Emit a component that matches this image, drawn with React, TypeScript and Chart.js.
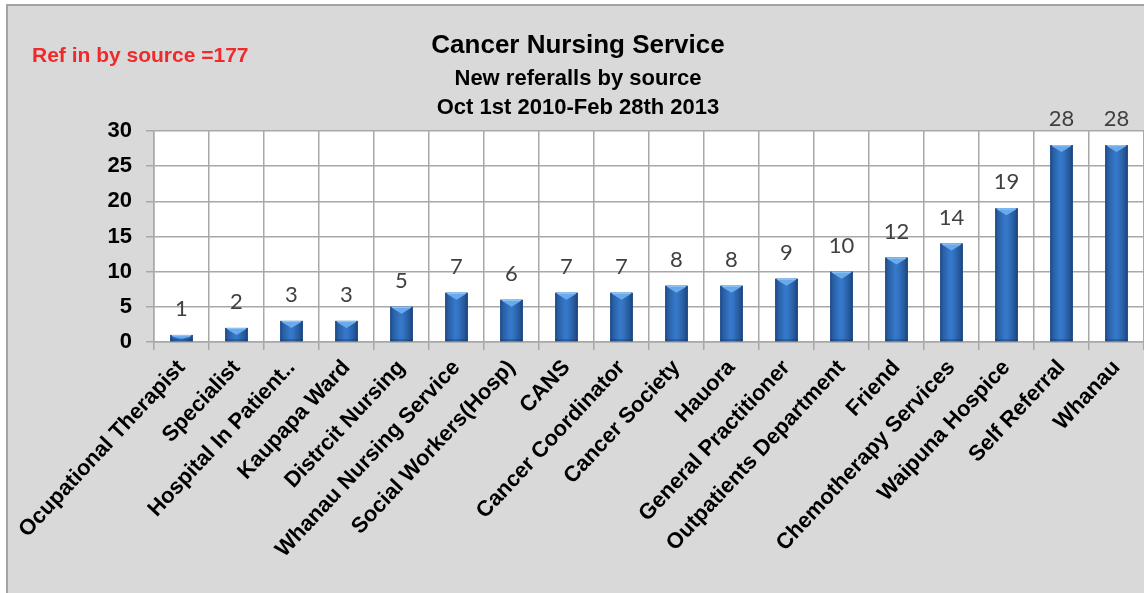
import React, { useEffect, useRef } from 'react';
import { Chart, registerables } from 'chart.js';

Chart.register(...registerables);

const categories = [
  'Ocupational Therapist',
  'Specialist',
  'Hospital In Patient..',
  'Kaupapa Ward',
  'Distrcit Nursing',
  'Whanau Nursing Service',
  'Social Workers(Hosp)',
  'CANS',
  'Cancer Coordinator',
  'Cancer Society',
  'Hauora',
  'General Practitioner',
  'Outpatients Department',
  'Friend',
  'Chemotherapy Services',
  'Waipuna Hospice',
  'Self Referral',
  'Whanau',
];
const referrals = [1, 2, 3, 3, 5, 7, 6, 7, 7, 8, 8, 9, 10, 12, 14, 19, 28, 28];
const yMin = 0;
const yMax = 30;
const yStep = 5;
const titleText = 'Cancer Nursing Service';
const subtitleLines = ['New referalls by source', 'Oct 1st 2010-Feb 28th 2013'];
const totalNote = 'Ref in by source =177';

const FONT = '"Liberation Sans", Arial, sans-serif';

const backgroundPlugin = {
  id: 'bgPanel',
  beforeDraw(chart: any) {
    const { ctx, width, height, chartArea } = chart;
    ctx.save();
    ctx.fillStyle = '#ffffff';
    ctx.fillRect(0, 0, width, height);
    ctx.fillStyle = '#d9d9d9';
    ctx.fillRect(7, 5, width - 7, height - 5);
    ctx.strokeStyle = '#a3a3a3';
    ctx.lineWidth = 2;
    ctx.beginPath();
    ctx.moveTo(7, height);
    ctx.lineTo(7, 5);
    ctx.lineTo(width, 5);
    ctx.stroke();
    ctx.fillStyle = '#ffffff';
    ctx.fillRect(chartArea.left, chartArea.top, chartArea.right - chartArea.left, chartArea.bottom - chartArea.top);
    ctx.restore();
  },
};

const barStylePlugin = {
  id: 'barStyle',
  afterDatasetsDraw(chart: any) {
    const { ctx } = chart;
    const meta = chart.getDatasetMeta(0);
    const ds = chart.data.datasets[0];
    ctx.save();
    meta.data.forEach((bar: any, i: number) => {
      const { x, y, base, width } = bar.getProps(['x', 'y', 'base', 'width'], true);
      const l = x - width / 2;
      const r = x + width / 2;
      const g = ctx.createLinearGradient(l, 0, r, 0);
      g.addColorStop(0, '#1b4580');
      g.addColorStop(0.12, '#285ea3');
      g.addColorStop(0.45, '#3679cb');
      g.addColorStop(0.6, '#3272c0');
      g.addColorStop(0.88, '#245595');
      g.addColorStop(1, '#193f75');
      ctx.fillStyle = g;
      ctx.fillRect(l, y, width, base - y);
      ctx.fillStyle = 'rgba(20,50,90,0.35)';
      ctx.fillRect(l, base - 2, width, 2);
      const bev = Math.min(7, (base - y) * 0.6);
      ctx.fillStyle = '#6aaaec';
      ctx.beginPath();
      ctx.moveTo(l + 1, y);
      ctx.lineTo(r - 1, y);
      ctx.lineTo(r - 3, y + 2);
      ctx.lineTo(x, y + bev);
      ctx.lineTo(l + 3, y + 2);
      ctx.closePath();
      ctx.fill();
      ctx.fillStyle = '#8cc4f6';
      ctx.fillRect(l + 2, y, width - 4, 1.2);
      ctx.fillStyle = '#404040';
      ctx.font = '22px Lato, "Open Sans", sans-serif';
      ctx.textAlign = 'center';
      ctx.textBaseline = 'alphabetic';
      ctx.fillText(String(ds.data[i]), x, y - 19);
    });
    ctx.restore();
  },
};

const notePlugin = {
  id: 'note',
  afterDraw(chart: any) {
    const { ctx } = chart;
    ctx.save();
    ctx.fillStyle = '#f02a2a';
    ctx.font = `bold 21px ${FONT}`;
    ctx.textAlign = 'left';
    ctx.textBaseline = 'middle';
    ctx.fillText(totalNote, 32, 56);
    ctx.restore();
  },
};

export default function App() {
  const ref = useRef<HTMLCanvasElement | null>(null);
  useEffect(() => {
    document.body.style.margin = '0';
    document.body.style.overflow = 'hidden';
    if (!ref.current) return;
    const chart = new Chart(ref.current, {
      type: 'bar',
      data: {
        labels: categories,
        datasets: [
          {
            data: referrals,
            backgroundColor: '#2e6cb8',
            borderWidth: 0,
            barPercentage: 0.41,
            categoryPercentage: 1,
          },
        ],
      },
      plugins: [backgroundPlugin, barStylePlugin, notePlugin],
      options: {
        responsive: true,
        maintainAspectRatio: false,
        animation: false,
        layout: { padding: { left: 12, right: 0, top: 0, bottom: 0 } },
        plugins: {
          legend: { display: false },
          tooltip: { enabled: false },
          title: {
            display: true,
            text: titleText,
            color: '#000000',
            font: { family: FONT, size: 26, weight: 'bold', lineHeight: 1.2 },
            padding: { top: 30, bottom: 2.9 },
          },
          subtitle: {
            display: true,
            text: subtitleLines,
            color: '#000000',
            font: { family: FONT, size: 22, weight: 'bold', lineHeight: 1.32 },
            padding: { top: 0, bottom: 8.8 },
          },
        },
        scales: {
          x: {
            afterFit(scale: any) {
              scale.height = 251;
            },
            grid: {
              offset: true,
              color: '#a8a8a8',
              lineWidth: 1.5,
              tickLength: 8,
            },
            border: { color: '#a8a8a8', width: 1.5 },
            ticks: {
              autoSkip: false,
              maxRotation: 47,
              minRotation: 47,
              padding: 5,
              color: '#000000',
              font: { family: FONT, size: 22, weight: 'bold' },
            },
          },
          y: {
            min: yMin,
            max: yMax,
            afterFit(scale: any) {
              scale.width = 142;
            },
            grid: {
              color: '#a8a8a8',
              lineWidth: 1.5,
              tickLength: 8,
            },
            border: { color: '#a8a8a8', width: 1.5 },
            ticks: {
              stepSize: yStep,
              padding: 14,
              color: '#000000',
              font: { family: FONT, size: 22, weight: 'bold' },
            },
          },
        },
      },
    });
    return () => chart.destroy();
  }, []);
  return (
    <div style={{ width: 1144, height: 593, position: 'relative' }}>
      <canvas ref={ref} />
    </div>
  );
}
